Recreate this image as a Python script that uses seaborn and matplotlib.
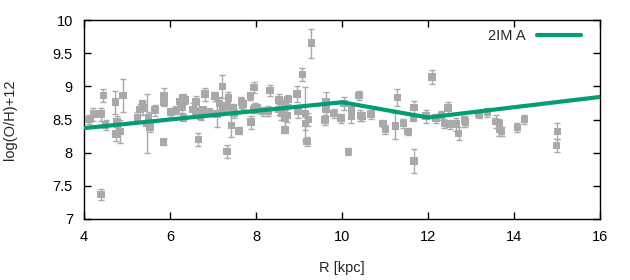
import numpy as np
import pandas as pd
import matplotlib
matplotlib.use("Agg")
import matplotlib.pyplot as plt
import seaborn as sns
from matplotlib.ticker import FormatStrFormatter

# observed abundances: galactocentric radius, log(O/H)+12, error
r_obs = [4.12, 4.22, 4.45, 4.40, 4.50, 4.40, 4.73, 4.77, 4.75, 4.84, 4.91,
         5.24, 5.30, 5.36, 5.37, 5.47, 5.50, 5.53, 5.65, 5.86, 5.86, 5.85, 6.03,
         6.15, 6.23, 6.30, 6.36, 6.28, 6.31, 6.54, 6.61, 6.59, 6.66, 6.71, 6.77,
         6.82, 6.91, 7.05, 7.10, 7.15, 7.22, 7.24, 7.33, 7.36, 7.43, 7.47, 7.49,
         7.33, 7.61, 7.66, 7.70, 7.87, 7.89, 7.96, 7.94, 7.98,
         9.29, 9.08, 8.33, 8.96, 8.03, 8.16, 8.29, 8.54, 8.54, 8.59, 8.68, 8.75,
         8.73, 8.68, 8.68, 8.98, 9.15, 9.15, 9.22, 9.19, 9.63, 9.63, 9.61, 9.82,
         9.98, 10.05, 10.22, 10.22, 10.15, 10.40, 10.43, 10.46, 10.68, 10.96,
         11.01, 11.24, 11.29, 11.43, 11.54, 11.68, 11.66, 11.68, 11.96,
         12.10, 12.19, 12.31, 12.38, 12.47, 12.50, 12.66, 12.71, 12.85, 12.87,
         13.19, 13.38, 13.57, 13.66, 13.66, 13.71, 14.08, 14.24, 15.01, 14.99]
oh_obs = [8.50, 8.58, 8.86, 8.58, 8.42, 7.37, 8.76, 8.47, 8.28, 8.32, 8.86,
          8.53, 8.65, 8.73, 8.67, 8.44, 8.52, 8.39, 8.64, 8.85, 8.76, 8.16, 8.61,
          8.64, 8.77, 8.82, 8.79, 8.68, 8.52, 8.65, 8.76, 8.62, 8.20, 8.55, 8.64,
          8.88, 8.61, 8.85, 8.58, 8.74, 9.00, 8.65, 8.70, 8.82, 8.41, 8.67, 8.59,
          8.02, 8.33, 8.76, 8.73, 8.85, 8.46, 8.98, 8.65, 8.68,
          9.65, 9.18, 8.94, 8.88, 8.67, 8.62, 8.63, 8.79, 8.65, 8.59, 8.74, 8.80,
          8.56, 8.52, 8.34, 8.62, 8.59, 8.44, 8.50, 8.17, 8.76, 8.65, 8.49, 8.59,
          8.52, 8.74, 8.64, 8.55, 8.02, 8.86, 8.56, 8.55, 8.58, 8.44,
          8.35, 8.40, 8.83, 8.44, 8.32, 8.68, 8.52, 7.87, 8.55,
          9.14, 8.52, 8.56, 8.44, 8.67, 8.43, 8.43, 8.29, 8.49, 8.46,
          8.58, 8.61, 8.47, 8.44, 8.35, 8.32, 8.38, 8.50, 8.32, 8.11]
err_obs = [0.07, 0.1, 0.1, 0.1, 0.08, 0.08, 0.17, 0.08, 0.1, 0.17, 0.25,
           0.08, 0.08, 0.07, 0.1, 0.44, 0.1, 0.08, 0.08, 0.12, 0.05, 0.05, 0.07,
           0.05, 0.05, 0.07, 0.06, 0.08, 0.05, 0.1, 0.1, 0.07, 0.1, 0.05, 0.05,
           0.1, 0.05, 0.07, 0.2, 0.1, 0.17, 0.07, 0.07, 0.1, 0.18, 0.07, 0.07,
           0.1, 0.05, 0.08, 0.07, 0.05, 0.1, 0.08, 0.05, 0.07,
           0.22, 0.1, 0.08, 0.12, 0.07, 0.07, 0.07, 0.1, 0.08, 0.1, 0.08, 0.07,
           0.1, 0.12, 0.05, 0.1, 0.4, 0.1, 0.1, 0.07, 0.15, 0.1, 0.08, 0.07,
           0.07, 0.1, 0.07, 0.1, 0.05, 0.07, 0.08, 0.07, 0.07, 0.05,
           0.07, 0.2, 0.13, 0.07, 0.05, 0.1, 0.05, 0.18, 0.1,
           0.1, 0.07, 0.07, 0.07, 0.1, 0.07, 0.1, 0.1, 0.07, 0.07,
           0.05, 0.07, 0.1, 0.07, 0.1, 0.07, 0.07, 0.07, 0.12, 0.1]

# model gradient
r_model = [4, 10, 12, 16]
oh_model = [8.37, 8.76, 8.53, 8.84]

obs = pd.DataFrame({"R": r_obs, "OH": oh_obs, "err": err_obs})
model = pd.DataFrame({"R": r_model, "OH": oh_model})

sns.set_style("ticks")
plt.rcParams['font.family'] = ['Liberation Sans', 'DejaVu Sans']

fig = plt.figure(figsize=(6.3, 2.8), dpi=100)
ax = fig.add_axes([84 / 630, 1 - 219 / 280, 516 / 630, 199 / 280])

grey = "#a9a9a9"
ax.errorbar(obs["R"], obs["OH"], yerr=obs["err"], fmt="none",
            ecolor=grey, elinewidth=1, capsize=2, capthick=1, zorder=2)
sns.scatterplot(data=obs, x="R", y="OH", marker="s", s=30, color=grey,
                edgecolor="none", ax=ax, zorder=3)
sns.lineplot(data=model, x="R", y="OH", color="#009e73", lw=3,
             label="2IM A", ax=ax, zorder=4)

ax.set_xlim(4, 16)
ax.set_ylim(7, 10)
ax.set_xticks(np.arange(4, 17, 2))
ax.set_yticks(np.arange(7, 10.01, 0.5))
ax.yaxis.set_major_formatter(FormatStrFormatter("%g"))
ax.tick_params(direction="in", top=True, right=True, length=5, width=1,
               labelsize=10.5, pad=8, colors="black")
for s in ax.spines.values():
    s.set_linewidth(1)
    s.set_color("black")
ax.set_xlabel("R [kpc]", fontsize=10.5, labelpad=12)
ax.set_ylabel("log(O/H)+12", fontsize=10.5, labelpad=26)

leg = ax.legend(loc="upper right", frameon=False, markerfirst=False,
                handlelength=3.0, fontsize=10.5, borderaxespad=0.2,
                bbox_to_anchor=(0.98, 1.0))

fig.savefig("out.png", dpi=100)
